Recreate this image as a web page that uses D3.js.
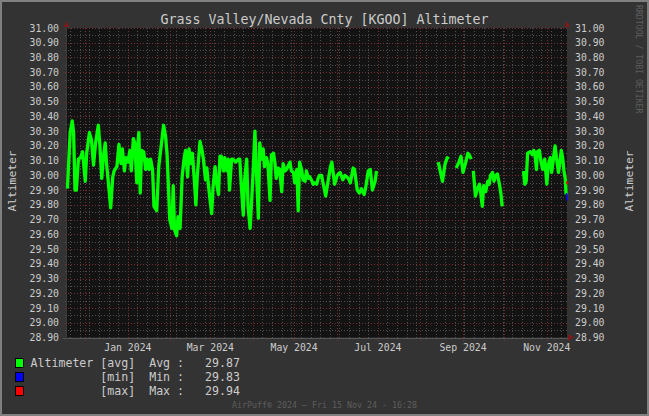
<!DOCTYPE html>
<html><head><meta charset="utf-8">
<script src="https://cdn.jsdelivr.net/npm/d3@7"></script>
<style>body{margin:0;background:#333}svg{display:block}</style>
</head><body><svg id="c" width="649" height="416"></svg>
<script>
// ---- data ----
const title = "Grass Valley/Nevada Cnty [KGOO] Altimeter";
const yAxisTitle = "Altimeter";
const timeStart = "2023-11-17 16:28";
const timeEnd = "2024-11-15 16:28";
const avgDates = [
"2023-11-18 00","2023-11-20 00","2023-11-21 12","2023-11-22 12","2023-11-23 12","2023-11-24 12","2023-11-26 00","2023-11-27 12","2023-11-29 00","2023-11-30 00",
"2023-12-01 00","2023-12-02 00","2023-12-04 00","2023-12-05 12","2023-12-07 00","2023-12-08 12","2023-12-10 12","2023-12-11 12","2023-12-13 00","2023-12-14 00",
"2023-12-15 12","2023-12-16 12","2023-12-18 12","2023-12-19 12","2023-12-21 00","2023-12-22 00","2023-12-24 00","2023-12-25 12","2023-12-27 00","2023-12-28 00",
"2023-12-29 12","2023-12-30 12","2024-01-01 00","2024-01-02 12","2024-01-03 12","2024-01-05 00","2024-01-06 00","2024-01-07 12","2024-01-08 12","2024-01-09 00",
"2024-01-10 00","2024-01-11 00","2024-01-12 12","2024-01-14 00","2024-01-15 00","2024-01-16 12","2024-01-17 12","2024-01-19 00","2024-01-20 00","2024-01-22 00",
"2024-01-23 12","2024-01-25 12","2024-01-27 00","2024-01-28 12","2024-01-29 12","2024-01-31 12","2024-02-02 00","2024-02-03 00","2024-02-04 00","2024-02-05 12",
"2024-02-06 12","2024-02-08 00","2024-02-09 12","2024-02-11 00","2024-02-12 00","2024-02-13 12","2024-02-14 12","2024-02-16 00","2024-02-17 00","2024-02-18 12",
"2024-02-19 12","2024-02-20 12","2024-02-22 12","2024-02-24 00","2024-02-25 00","2024-02-26 12","2024-02-27 12","2024-02-28 12","2024-02-29 12","2024-03-02 00",
"2024-03-03 00","2024-03-04 12","2024-03-05 12","2024-03-07 00","2024-03-08 00","2024-03-09 00","2024-03-10 12","2024-03-11 12","2024-03-13 00","2024-03-14 00",
"2024-03-15 00","2024-03-16 12","2024-03-17 12","2024-03-19 12","2024-03-21 12","2024-03-22 12","2024-03-23 12","2024-03-25 00","2024-03-26 00","2024-03-27 12",
"2024-03-28 12","2024-03-30 00","2024-03-31 00","2024-04-01 00","2024-04-02 12","2024-04-03 12","2024-04-05 00","2024-04-06 00","2024-04-07 12","2024-04-08 12",
"2024-04-09 12","2024-04-11 00","2024-04-12 00","2024-04-13 12","2024-04-14 12","2024-04-16 00","2024-04-17 00","2024-04-18 00","2024-04-19 12","2024-04-20 12",
"2024-04-22 00","2024-04-23 00","2024-04-24 12","2024-04-25 12","2024-04-26 12","2024-04-28 00","2024-04-29 00","2024-04-30 12","2024-05-01 12","2024-05-03 00",
"2024-05-04 00","2024-05-05 00","2024-05-06 12","2024-05-07 12","2024-05-09 00","2024-05-10 00","2024-05-11 12","2024-05-12 12","2024-05-13 12","2024-05-15 00",
"2024-05-16 00","2024-05-17 12","2024-05-18 12","2024-05-19 12","2024-05-21 00","2024-05-24 00","2024-05-27 12","2024-05-28 12","2024-05-30 12","2024-06-01 12",
"2024-06-03 12","2024-06-05 12","2024-06-07 00","2024-06-09 12","2024-06-11 00","2024-06-13 00","2024-06-14 00","2024-06-16 00","2024-06-17 12","2024-06-19 00",
"2024-06-21 00","2024-06-22 00","2024-06-24 00","2024-06-25 12","2024-06-27 00","2024-06-29 00","2024-06-30 00",
"2024-07-20 00",
"2024-08-14 00","2024-08-17 00","2024-08-19 00","2024-08-20 12","2024-08-21 12",
"2024-08-24 00",
"2024-08-27 00","2024-08-29 00","2024-08-30 12","2024-09-01 00","2024-09-03 00","2024-09-04 12","2024-09-06 00","2024-09-07 00",
"2024-09-07 18",
"2024-09-08 12","2024-09-10 00","2024-09-11 12","2024-09-13 00","2024-09-14 00","2024-09-15 00","2024-09-16 00","2024-09-17 12","2024-09-19 00","2024-09-20 00",
"2024-09-21 00","2024-09-22 12","2024-09-23 12","2024-09-25 00","2024-09-26 00","2024-09-27 12","2024-09-28 12","2024-09-29 12",
"2024-10-07 00",
"2024-10-15 00","2024-10-16 00","2024-10-17 00","2024-10-18 00","2024-10-20 00","2024-10-21 12","2024-10-22 12","2024-10-23 12","2024-10-24 12","2024-10-25 00",
"2024-10-26 12","2024-10-28 00","2024-10-29 00","2024-10-30 12","2024-11-01 00","2024-11-02 00","2024-11-03 12","2024-11-04 12","2024-11-06 00","2024-11-07 00",
"2024-11-08 00","2024-11-09 12","2024-11-10 12","2024-11-11 12","2024-11-12 12","2024-11-13 12","2024-11-14 12","2024-11-15 00"
];
const avgValues = [
29.91,30.29,30.37,30.29,29.90,29.90,30.11,30.12,30.16,30.06,
29.96,30.15,30.29,30.24,30.07,30.22,30.34,30.22,29.98,30.11,
30.22,30.08,29.88,29.78,29.99,30.03,30.06,30.21,30.08,30.18,
30.03,30.12,30.09,30.17,30.03,30.25,30.22,29.95,30.24,30.29,
29.88,30.17,30.16,30.04,30.11,30.04,30.11,30.04,29.79,29.76,
30.06,30.22,30.34,30.26,30.15,29.70,29.64,29.93,29.63,29.59,
29.72,29.64,29.99,30.12,30.17,29.99,30.18,30.08,30.15,29.95,
29.80,29.99,30.23,30.17,30.11,29.97,30.05,29.95,29.86,29.74,
29.92,30.06,29.95,29.87,30.13,30.13,30.03,30.12,30.03,30.11,
29.90,30.11,30.11,30.09,30.11,30.11,29.94,29.73,29.97,30.11,
29.79,29.64,29.81,29.99,30.30,30.04,29.71,30.22,30.11,30.18,
30.06,30.12,30.07,29.83,30.14,30.15,30.09,29.98,30.05,30.04,
29.89,30.08,30.03,30.04,30.06,30.09,30.03,30.02,29.95,30.04,
29.76,30.09,30.04,29.97,29.96,30.03,29.98,29.99,29.97,29.94,
29.95,29.94,29.98,30.00,30.00,29.86,30.06,30.09,29.94,30.00,
30.02,29.97,30.00,29.98,29.95,30.05,30.04,29.90,29.88,29.91,
29.87,29.91,30.03,30.04,29.90,29.96,30.03,
null,
30.09,29.96,30.08,30.12,30.11,
null,
30.05,30.09,30.13,30.02,30.09,30.15,30.13,30.11,
null,
30.03,29.86,29.91,29.94,29.87,29.79,29.93,29.89,29.96,29.94,
30.00,30.02,29.96,30.00,30.01,29.94,29.88,29.79,
null,
30.03,29.94,29.96,30.15,30.16,30.14,30.17,30.13,30.04,30.16,
30.17,30.08,30.04,30.11,29.94,30.07,30.12,30.02,30.13,30.20,
30.12,30.02,30.09,30.17,30.12,30.03,29.97,29.87
];
const minDates = ["2024-11-15 08","2024-11-15 14"];
const minValues = [29.88, 29.83];
const maxDates = ["2024-11-15 08","2024-11-15 14"];
const maxValues = [29.96, 29.94];
const yTicks = [28.9,29.0,29.1,29.2,29.3,29.4,29.5,29.6,29.7,29.8,29.9,30.0,30.1,30.2,30.3,30.4,30.5,30.6,30.7,30.8,30.9,31.0];
const xLabelMonths = ["2024-01-01 00","2024-03-01 00","2024-05-01 00","2024-07-01 00","2024-09-01 00","2024-11-01 00"];
const legendNames = ["Altimeter [avg]","          [min]","          [max]"];
const legendStats = ["Avg","Min","Max"];
const legendValues = [29.87, 29.83, 29.94];
const seriesColors = ["#00ff00","#0000ff","#ff0000"];
const footer = "AirPuff\u00ae 2024 \u2014 Fri 15 Nov 24 - 16:28";
const watermark = "RRDTOOL / TOBI OETIKER";

// ---- drawing ----
const parse = d3.timeParse("%Y-%m-%d %H");
const parseM = d3.timeParse("%Y-%m-%d %H:%M");
const W = 649, H = 416;
const L = 67, R = 567, T = 28, B = 337.5;
const mono = "'DejaVu Sans Mono', monospace";
const svg = d3.select("#c");

svg.append("rect").attr("width", W).attr("height", H).attr("fill", "#333333");
svg.append("rect").attr("x", 1).attr("y", 1).attr("width", W-2).attr("height", H-2)
  .attr("fill", "none").attr("stroke", "#808080").attr("stroke-width", 2);

const x = d3.scaleTime().domain([parseM(timeStart), parseM(timeEnd)]).range([L, R]);
const y = d3.scaleLinear().domain([28.9, 31.0]).range([B, T]);

svg.append("rect").attr("x", L).attr("y", T).attr("width", R-L).attr("height", B-T).attr("fill", "#131313");

const grid = svg.append("g").attr("shape-rendering", "crispEdges");
const minorY = d3.range(28.95, 31.0, 0.1);
grid.selectAll(".hm").data(minorY).join("line")
  .attr("x1", L-2).attr("x2", R+2).attr("y1", d => Math.round(y(d))+0.5).attr("y2", d => Math.round(y(d))+0.5)
  .attr("stroke", "#4e4e4e").attr("stroke-dasharray", "1,2");
const weeks = d3.timeMonday.range(x.domain()[0], x.domain()[1]);
grid.selectAll(".vm").data(weeks).join("line")
  .attr("y1", T).attr("y2", B+2).attr("x1", d => Math.round(x(d))+0.5).attr("x2", d => Math.round(x(d))+0.5)
  .attr("stroke", "#4e4e4e").attr("stroke-dasharray", "1,2");
grid.selectAll(".hM").data(yTicks).join("line")
  .attr("x1", L-2).attr("x2", R+2).attr("y1", d => Math.round(y(d))+0.5).attr("y2", d => Math.round(y(d))+0.5)
  .attr("stroke", "#743030").attr("stroke-dasharray", "1,2");
const months = d3.timeMonth.range(x.domain()[0], x.domain()[1]);
grid.selectAll(".vM").data(months).join("line")
  .attr("y1", T).attr("y2", B+3).attr("x1", d => Math.round(x(d))+0.5).attr("x2", d => Math.round(x(d))+0.5)
  .attr("stroke", "#743030").attr("stroke-dasharray", "1,2");

const axisColor = "#7a1c1c";
grid.append("line").attr("x1", L-4).attr("x2", R+4).attr("y1", Math.round(B)+0.5).attr("y2", Math.round(B)+0.5).attr("stroke", "#555");
grid.append("line").attr("x1", L-0.5).attr("x2", L-0.5).attr("y1", B+4).attr("y2", T-4).attr("stroke", "#3a3a3a");
svg.append("path").attr("d", `M${L-3.5},${T-1}L${L+2.5},${T-1}L${L-0.5},${T-7}Z`).attr("fill", axisColor);
svg.append("path").attr("d", `M${R-3},${T-1}L${R+3},${T-1}L${R},${T-7}Z`).attr("fill", axisColor);
svg.append("path").attr("d", `M${R+1},${B-3.5}L${R+1},${B+3.5}L${R+7},${B}Z`).attr("fill", axisColor);

const fmt = d3.format(".2f");
svg.append("g").selectAll("text").data(yTicks).join("text")
  .attr("x", L-8).attr("y", d => y(d)).attr("dy", "0.36em").attr("text-anchor", "end")
  .attr("font-family", mono).attr("font-size", 9.8).attr("fill", "#cccccc").text(fmt);
svg.append("g").selectAll("text").data(yTicks).join("text")
  .attr("x", R+8).attr("y", d => y(d)).attr("dy", "0.36em").attr("text-anchor", "start")
  .attr("font-family", mono).attr("font-size", 9.8).attr("fill", "#cccccc").text(fmt);
const mfmt = d3.timeFormat("%b %Y");
svg.append("g").selectAll("text").data(xLabelMonths.map(parse)).join("text")
  .attr("x", d => x(d)).attr("y", 351).attr("text-anchor", "middle")
  .attr("font-family", mono).attr("font-size", 9.8).attr("fill", "#cccccc").text(mfmt);

svg.append("text").attr("x", 324.5).attr("y", 24).attr("text-anchor", "middle")
  .attr("font-family", mono).attr("font-size", 13.3).attr("fill", "#cccccc").text(title);
svg.append("text").attr("transform", "translate(12,181) rotate(-90)").attr("text-anchor", "middle").attr("dy", "0.36em")
  .attr("font-family", mono).attr("font-size", 11.3).attr("fill", "#cccccc").text(yAxisTitle);
svg.append("text").attr("transform", "translate(629,181) rotate(-90)").attr("text-anchor", "middle").attr("dy", "0.36em")
  .attr("font-family", mono).attr("font-size", 11.3).attr("fill", "#cccccc").text(yAxisTitle);
svg.append("text").attr("transform", "translate(639,5) rotate(90)").attr("text-anchor", "start").attr("dy", "0.36em")
  .attr("font-family", mono).attr("font-size", 8.2).attr("fill", "#5e5e5e").text(watermark);

const mk = (ds, vs) => ds.map((d, i) => ({t: parse(d), v: vs[i]}));
const line = d3.line().defined(d => d.v != null).x(d => x(d.t)).y(d => y(d.v)).curve(d3.curveLinear);
const plot = svg.append("g");
plot.append("path").datum(mk(avgDates, avgValues)).attr("d", line)
  .attr("fill", "none").attr("stroke", seriesColors[0]).attr("stroke-width", 3.3).attr("stroke-linejoin", "round");
plot.append("path").datum(mk(minDates, minValues)).attr("d", line)
  .attr("fill", "none").attr("stroke", seriesColors[1]).attr("stroke-width", 1.5);
plot.append("path").datum(mk(maxDates, maxValues)).attr("d", line)
  .attr("fill", "none").attr("stroke", seriesColors[2]).attr("stroke-width", 1.5);

const lg = svg.append("g");
legendNames.forEach((n, i) => {
  const yy = 363 + i*14;
  lg.append("rect").attr("x", 15.5).attr("y", yy-4.5).attr("width", 8).attr("height", 9)
    .attr("fill", seriesColors[i]).attr("stroke", "#000").attr("stroke-width", 1);
  lg.append("text").attr("x", 30.5).attr("y", yy).attr("dy", "0.36em").attr("xml:space", "preserve")
    .attr("font-family", mono).attr("font-size", 11.6).attr("fill", "#cccccc")
    .text(`${n}  ${legendStats[i]} :   ${fmt(legendValues[i])}`);
});
svg.append("text").attr("x", 324.5).attr("y", 408).attr("text-anchor", "middle")
  .attr("font-family", mono).attr("font-size", 8.3).attr("fill", "#5e5e5e").text(footer);
</script></body></html>
